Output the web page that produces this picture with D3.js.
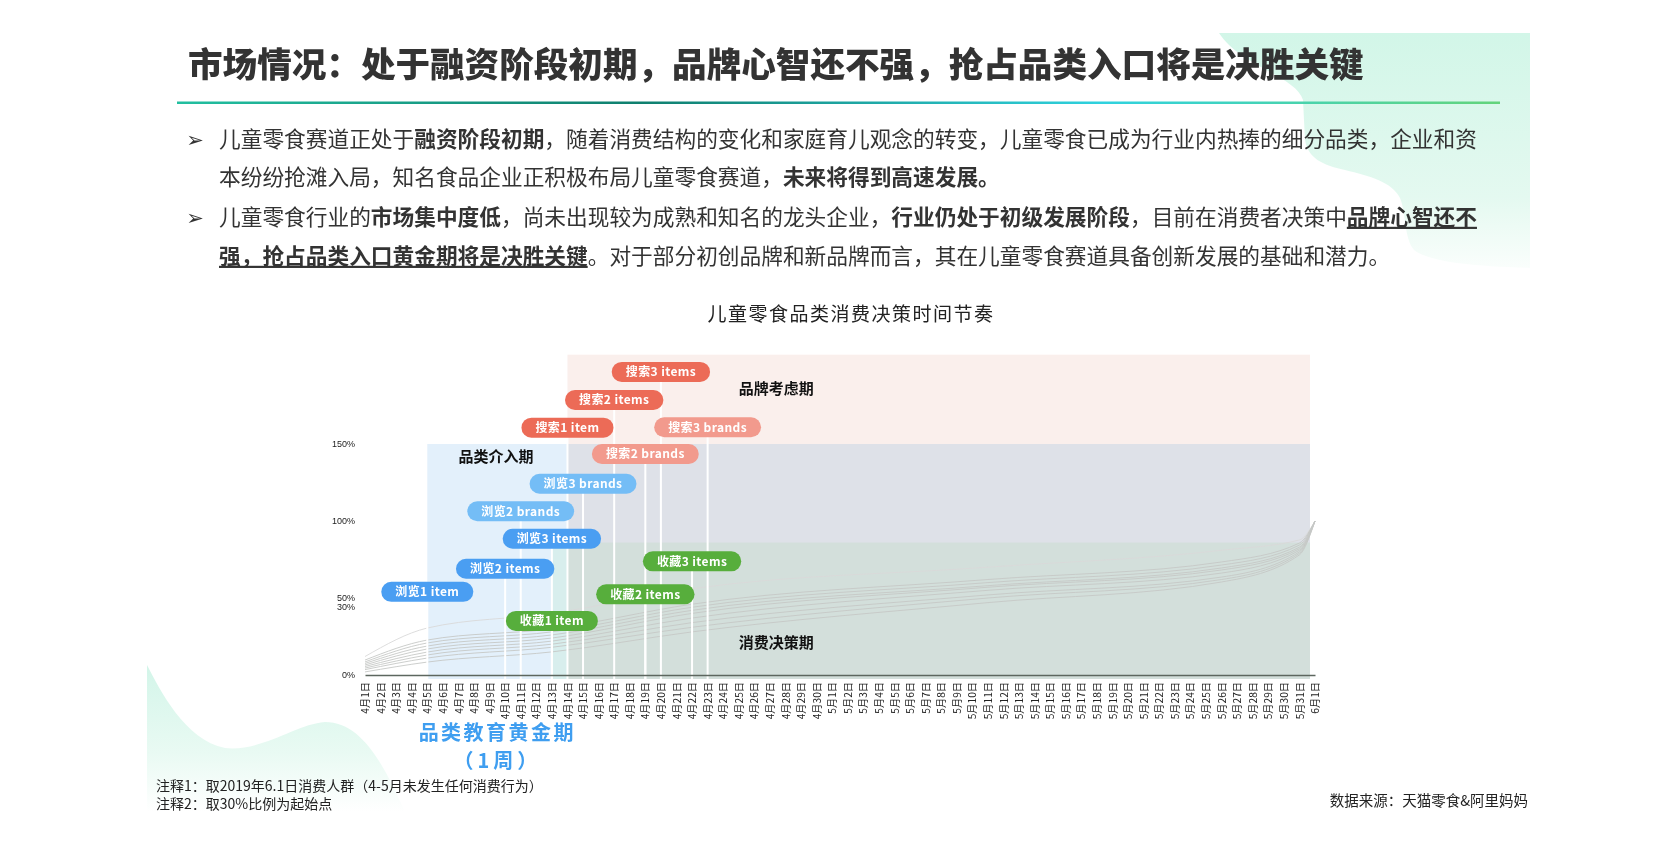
<!DOCTYPE html>
<html>
<head>
<meta charset="utf-8">
<script src="https://cdn.jsdelivr.net/npm/d3@7"></script>
<style>
  body { margin: 0; background: #fff; }
  svg  { display: block; font-family: "Noto Sans CJK SC", "Noto Sans", sans-serif; }
</style>
</head>
<body>
<svg id="chart" width="1677" height="845"></svg>
<script>
// ---- data ----
const dayLabels = d3.timeDay.range(new Date(2019, 3, 1), new Date(2019, 5, 2))
  .map(d => `${d.getMonth() + 1}月${d.getDate()}日`);

const yTicks = [0, 50, 100, 150];

const phaseNames  = ['品类介入期', '品牌考虑期', '消费决策期'];
const phaseFrom   = ['4月5日', '4月14日', '4月13日'];
const phaseTop    = [150, 208, 86];
const phaseColors = ['#e3f0fb', '#faefec', '#f3fdf1'];
const phaseLabelDay   = ['4月7日', '4月25日', '4月25日'];
const phaseLabelValue = [142, 186, 21];

const eventNames  = ['浏览1 item', '浏览2 items', '浏览3 items', '浏览2 brands', '浏览3 brands',
                     '收藏1 item', '收藏2 items', '收藏3 items',
                     '搜索1 item', '搜索2 items', '搜索3 items', '搜索2 brands', '搜索3 brands'];
const eventDays   = ['4月5日', '4月10日', '4月13日', '4月11日', '4月15日',
                     '4月13日', '4月19日', '4月22日',
                     '4月14日', '4月17日', '4月20日', '4月19日', '4月23日'];
const eventValues = [54, 69, 88.5, 106.3, 124.2,
                     35.1, 52.4, 73.8,
                     160.6, 178.6, 196.8, 143.5, 160.9];
const eventKinds  = ['bi', 'bi', 'bi', 'bb', 'bb', 'fav', 'fav', 'fav', 'si', 'si', 'si', 'sb', 'sb'];
const kindColors  = { bi: '#4a9ef2', bb: '#74bdf6', fav: '#57ae3c', si: '#ec6b57', sb: '#f29a8d' };

const curveDays = ['4月1日', '4月5日', '4月13日', '4月22日', '5月11日', '5月26日', '5月31日', '6月1日'];
const curveSeries = [
  [12.0, 30.5, 40, 56, 70, 81.0, 87.7, 100],
  [ 9.7, 22.7, 30, 46, 62, 73.4, 85.7, 100],
  [ 8.5, 20.8, 28, 44, 60, 71.4, 84.4, 100],
  [ 7.5, 18.8, 26, 42, 58, 69.5, 83.0, 100],
  [ 6.5, 16.9, 24, 40, 57, 68.2, 82.0, 100],
  [ 5.5, 14.9, 22, 37, 55, 66.2, 81.0, 100],
  [ 4.5, 13.0, 20, 34, 52, 63.6, 80.0, 100],
  [ 3.5, 11.0, 18, 31, 50, 62.0, 79.0, 100],
  [ 2.0,  8.4, 15, 28, 47, 60.4, 78.0, 100]
];

const titleText  = '市场情况：处于融资阶段初期，品牌心智还不强，抢占品类入口将是决胜关键';
const chartTitle = '儿童零食品类消费决策时间节奏';
const bulletLines = [
  { bullet: true,  segs: [['儿童零食赛道正处于'], ['融资阶段初期', 'b'], ['，随着消费结构的变化和家庭育儿观念的转变，儿童零食已成为行业内热捧的细分品类，企业和资']] },
  { bullet: false, segs: [['本纷纷抢滩入局，知名食品企业正积极布局儿童零食赛道，'], ['未来将得到高速发展。', 'b']] },
  { bullet: true,  segs: [['儿童零食行业的'], ['市场集中度低', 'b'], ['，尚未出现较为成熟和知名的龙头企业，'], ['行业仍处于初级发展阶段', 'b'], ['，目前在消费者决策中'], ['品牌心智还不', 'bu']] },
  { bullet: false, segs: [['强，抢占品类入口黄金期将是决胜关键', 'bu'], ['。对于部分初创品牌和新品牌而言，其在儿童零食赛道具备创新发展的基础和潜力。']] }
];
const notes  = ['注释1：取2019年6.1日消费人群（4-5月未发生任何消费行为）', '注释2：取30%比例为起始点'];
const source = '数据来源：天猫零食&阿里妈妈';

// ---- page ----
const svg  = d3.select('#chart');
const defs = svg.append('defs');

const gTop = defs.append('linearGradient').attr('id', 'decoTop').attr('x1', 0).attr('y1', 0).attr('x2', 0).attr('y2', 1);
gTop.append('stop').attr('offset', '0%').attr('stop-color', '#d2f6e8');
gTop.append('stop').attr('offset', '70%').attr('stop-color', '#e4f9f0');
gTop.append('stop').attr('offset', '100%').attr('stop-color', '#fafefc');

const gBot = defs.append('linearGradient').attr('id', 'decoBot').attr('x1', 0).attr('y1', 0).attr('x2', 0).attr('y2', 1);
gBot.append('stop').attr('offset', '0%').attr('stop-color', '#d3f5e9');
gBot.append('stop').attr('offset', '60%').attr('stop-color', '#e9faf3');
gBot.append('stop').attr('offset', '100%').attr('stop-color', '#ffffff');

const gLine = defs.append('linearGradient').attr('id', 'rule');
[['0%', '#22bfa0'], ['35%', '#0f7f6e'], ['70%', '#2fd2df'], ['100%', '#63d47b']]
  .forEach(([o, c]) => gLine.append('stop').attr('offset', o).attr('stop-color', c));

// decorative shapes
svg.append('path').attr('fill', 'url(#decoTop)')
  .attr('d', 'M1219,33 L1530,33 L1530,268 C1470,266 1430,262 1414,250 C1404,238 1406,212 1400,198 C1392,182 1370,176 1345,170 C1322,165 1308,158 1305,140 L1303,100 C1296,76 1240,66 1219,33 Z');
svg.append('path').attr('fill', 'url(#decoBot)')
  .attr('d', 'M147,665 C160,690 185,740 225,748 C262,752 296,724 325,722 C360,722 382,760 405,812 L147,812 Z');

// title
svg.append('text').attr('x', 188).attr('y', 65).attr('dy', '0.36em')
  .attr('font-size', 34.6).attr('font-weight', 900).attr('fill', '#333')
  .text(titleText);
svg.append('rect').attr('x', 177).attr('y', 101.5).attr('width', 1323).attr('height', 2.5)
  .attr('fill', 'url(#rule)');

// bullet text
const lineY = [139, 177, 217, 256];
bulletLines.forEach((ln, i) => {
  if (ln.bullet) {
    svg.append('text').attr('x', 195).attr('y', lineY[i]).attr('dy', '0.36em')
      .attr('text-anchor', 'middle').attr('font-family', 'DejaVu Sans').attr('font-size', 21)
      .attr('fill', '#333').text('➢');
  }
  const t = svg.append('text').attr('x', 219).attr('y', lineY[i]).attr('dy', '0.36em')
    .attr('font-size', 21.7).attr('fill', '#333');
  ln.segs.forEach(([s, st]) => {
    t.append('tspan')
      .attr('font-weight', st ? 700 : 400)
      .style('text-decoration', st === 'bu' ? 'underline' : null)
      .text(s);
  });
});

// ---- chart ----
const x = d3.scalePoint().domain(dayLabels).range([365, 1315]);
const y = d3.scaleLinear().domain([0, 150]).range([675, 444]);
const right  = x('6月1日') - 5;
const bottom = y(0) + 4;

svg.append('text').attr('x', 851).attr('y', 314).attr('dy', '0.36em')
  .attr('text-anchor', 'middle').attr('font-size', 19).attr('letter-spacing', 1.5)
  .attr('fill', '#222').text(chartTitle);

const gPhase = svg.append('g');
phaseNames.forEach((n, i) => {
  gPhase.append('rect')
    .attr('x', x(phaseFrom[i])).attr('y', y(phaseTop[i]))
    .attr('width', right - x(phaseFrom[i])).attr('height', bottom - y(phaseTop[i]))
    .attr('fill', phaseColors[i]).style('mix-blend-mode', 'multiply');
});

// gray cohort curves
const line = d3.line()
  .x((d, i) => x(curveDays[i]))
  .y(d => y(d))
  .curve(d3.curveMonotoneX);
svg.append('g').selectAll('path').data(curveSeries).join('path')
  .attr('d', line).attr('fill', 'none')
  .attr('stroke', (d, i) => i === 0 ? '#d9d9d9' : '#c6c8c6')
  .attr('stroke-width', 0.9);

// white stems
svg.append('g').selectAll('line').data(eventNames).join('line')
  .attr('x1', (d, i) => x(eventDays[i])).attr('x2', (d, i) => x(eventDays[i]))
  .attr('y1', (d, i) => y(eventValues[i])).attr('y2', bottom)
  .attr('stroke', '#fff').attr('stroke-width', 2);

// x axis
const xAxis = svg.append('g').attr('transform', `translate(0,${y(0)})`)
  .call(d3.axisBottom(x).tickSize(0).tickSizeOuter(0));
xAxis.select('.domain').attr('stroke', '#5d675f').attr('stroke-width', 1.4);
xAxis.selectAll('text')
  .attr('transform', 'rotate(-90)')
  .attr('text-anchor', 'end')
  .attr('x', -7).attr('y', 0).attr('dy', '0.35em')
  .attr('font-size', 10.2).attr('font-family', '"Noto Sans CJK SC", sans-serif')
  .attr('fill', '#222');

// y axis labels
const yAxis = svg.append('g').attr('transform', `translate(${x('4月1日') - 3},0)`)
  .call(d3.axisLeft(y).tickValues(yTicks).tickFormat(d => d + '%').tickSize(0).tickPadding(7));
yAxis.select('.domain').remove();
yAxis.selectAll('text').attr('font-size', 9).attr('font-family', '"Liberation Sans", Arial, sans-serif').attr('fill', '#222');
svg.append('text').attr('x', x('4月1日') - 10).attr('y', y(50) + 9).attr('dy', '0.32em')
  .attr('text-anchor', 'end').attr('font-size', 9).attr('font-family', '"Liberation Sans", Arial, sans-serif')
  .attr('fill', '#222').text('30%');

// phase labels
phaseNames.forEach((n, i) => {
  svg.append('text').attr('x', x(phaseLabelDay[i])).attr('y', y(phaseLabelValue[i])).attr('dy', '0.36em')
    .attr('font-size', 15).attr('font-weight', 700).attr('fill', '#111').text(n);
});

// event pills
const pills = svg.append('g').selectAll('g').data(eventNames).join('g')
  .attr('transform', (d, i) => `translate(${x(eventDays[i])},${y(eventValues[i])})`);
pills.append('text')
  .attr('text-anchor', 'middle').attr('dy', '0.36em')
  .attr('font-size', 12).attr('font-weight', 700).attr('fill', '#fff')
  .attr('letter-spacing', 0.4)
  .text(d => d);
pills.each(function (d, i) {
  const g = d3.select(this);
  const w = g.select('text').node().getComputedTextLength() + 28;
  g.insert('rect', 'text')
    .attr('x', -w / 2).attr('y', -10).attr('width', w).attr('height', 20)
    .attr('rx', 10).attr('fill', kindColors[eventKinds[i]]);
});

// golden period label
const goldX = (x('4月5日') + x('4月14日')) / 2;
svg.append('text').attr('x', goldX).attr('y', 733).attr('dy', '0.36em')
  .attr('text-anchor', 'middle').attr('font-size', 20).attr('font-weight', 700)
  .attr('letter-spacing', 2.5).attr('fill', '#3f9ef0').text('品类教育黄金期');
svg.append('text').attr('x', goldX).attr('y', 761).attr('dy', '0.36em')
  .attr('text-anchor', 'middle').attr('font-size', 20).attr('font-weight', 700)
  .attr('letter-spacing', 4).attr('fill', '#3f9ef0').text('（1周）');

// notes + source
notes.forEach((n, i) => {
  svg.append('text').attr('x', 156).attr('y', 786 + i * 18).attr('dy', '0.36em')
    .attr('font-size', 14).attr('fill', '#222').text(n);
});
svg.append('text').attr('x', 1528).attr('y', 801).attr('dy', '0.36em')
  .attr('text-anchor', 'end').attr('font-size', 14.5).attr('fill', '#222').text(source);
</script>
</body>
</html>
